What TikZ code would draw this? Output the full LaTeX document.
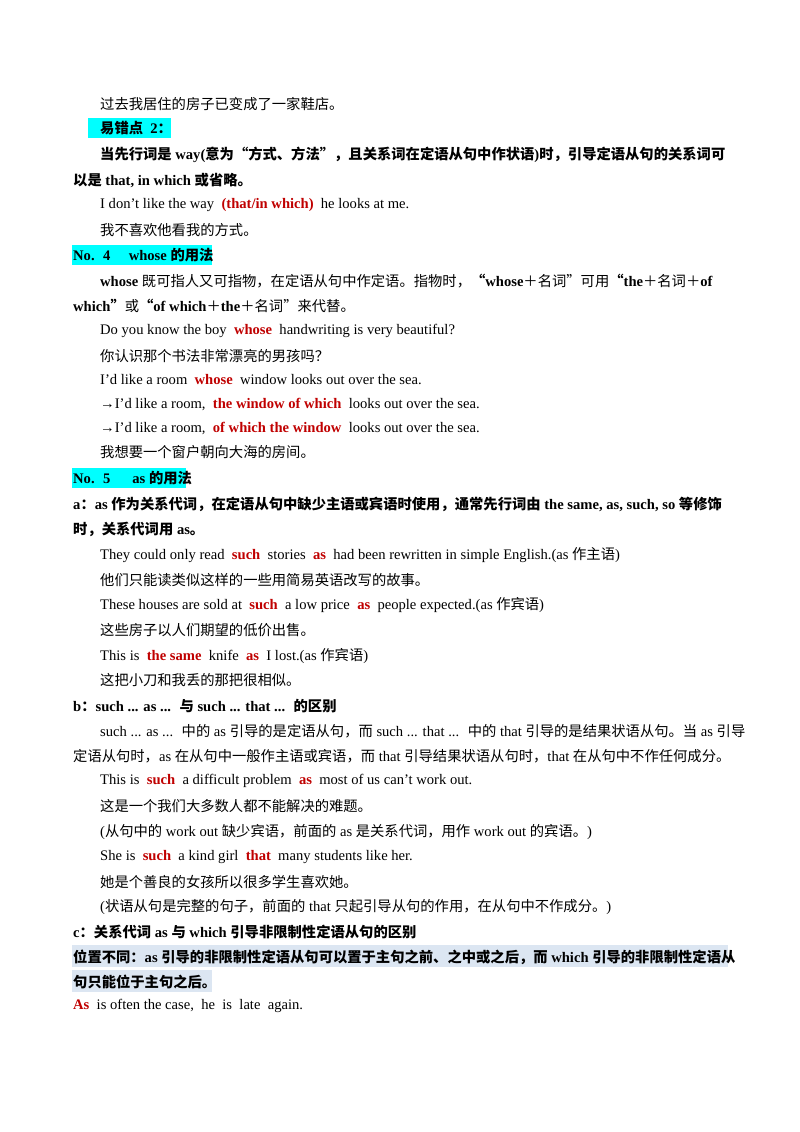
\documentclass[tikz,border=0pt]{standalone}
\usepackage{fontspec}
\setmainfont{Liberation Serif}
\newfontfamily\cjk{Noto Sans CJK SC}[Scale=0.98]
\XeTeXinterchartokenstate=1
\newXeTeXintercharclass\CJKcls
\count255="4E00 \loop \XeTeXcharclass\count255=\CJKcls \ifnum\count255<"9FFF \advance\count255 by 1 \repeat
\count255="3000 \loop \XeTeXcharclass\count255=\CJKcls \ifnum\count255<"303F \advance\count255 by 1 \repeat
\count255="FF00 \loop \XeTeXcharclass\count255=\CJKcls \ifnum\count255<"FFEF \advance\count255 by 1 \repeat
\XeTeXcharclass"201C=\CJKcls \XeTeXcharclass"201D=\CJKcls
\XeTeXinterchartoks 0 \CJKcls = {\cjk}
\XeTeXinterchartoks 4095 \CJKcls = {\cjk}
\XeTeXinterchartoks \CJKcls 0 = {\rmfamily}
\XeTeXinterchartoks \CJKcls 4095 = {\rmfamily}
\definecolor{myred}{HTML}{C00000}
\definecolor{hlc}{HTML}{00FFFF}
\definecolor{hlb}{HTML}{DCE6F2}
\newcommand\rd[1]{\textcolor{myred}{\textbf{#1}}}
\newcommand\ap{\char"0027\relax}
\tikzset{t/.style={anchor=west,inner sep=0pt,font=\fontsize{14.6}{17}\selectfont}}
\begin{document}
\begin{tikzpicture}[x=1pt,y=-1pt]
\useasboundingbox[fill=white] (0,0) rectangle (800,1132);
\fill[hlc] (88,118) rectangle (171,138);
\fill[hlc] (72,245) rectangle (212,265);
\fill[hlc] (72,468) rectangle (186,488);
\fill[hlb] (72,945) rectangle (728,967);
\fill[hlb] (72,970) rectangle (212,992);
\node[t] (l1) at (100,104) {过去我居住的房子已变成了一家鞋店。};
\node[t] (l2) at (100,128) {\textbf{易错点 \ 2：}};
\node[t] (l3) at (100,155) {\textbf{当先行词是 way(意为“方式、方法”，且关系词在定语从句中作状语)时，引导定语从句的关系词可}};
\node[t] (l4) at (73,180) {\textbf{以是 that, in which 或省略。}};
\node[t] (l5) at (100,205) {I don\ap t like the way \ \rd{(that/in which)} \ he looks at me.};
\node[t] (l6) at (100,230) {我不喜欢他看我的方式。};
\node[t] (l7) at (73,255) {\textbf{No. \ 4 \quad whose 的用法}};
\node[t] (l8) at (100,281) {\textbf{whose} 既可指人又可指物，在定语从句中作定语。指物时，\textbf{“whose}＋名词”可用\textbf{“the}＋名词＋\textbf{of}};
\node[t] (l9) at (73,306) {\textbf{which”}或\textbf{“of which}＋\textbf{the}＋名词”来代替。};
\node[t] (l10) at (100,331) {Do you know the boy \ \rd{whose} \ handwriting is very beautiful?};
\node[t] (l11) at (100,356) {你认识那个书法非常漂亮的男孩吗？};
\node[t] (l12) at (100,380) {I\ap d like a room \ \rd{whose} \ window looks out over the sea.};
\node[t] (l13) at (100,404) {→I\ap d like a room, \ \rd{the window of which} \ looks out over the sea.};
\node[t] (l14) at (100,428) {→I\ap d like a room, \ \rd{of which the window} \ looks out over the sea.};
\node[t] (l15) at (100,452) {我想要一个窗户朝向大海的房间。};
\node[t] (l16) at (73,478) {\textbf{No. \ 5 \quad\  as 的用法}};
\node[t] (l17) at (73,504) {\textbf{a：as 作为关系代词，在定语从句中缺少主语或宾语时使用，通常先行词由 the same, as, such, so 等修饰}};
\node[t] (l18) at (73,529) {\textbf{时，关系代词用 as。}};
\node[t] (l19) at (100,555) {They could only read \ \rd{such} \ stories \ \rd{as} \ had been rewritten in simple English.(as 作主语)};
\node[t] (l20) at (100,580) {他们只能读类似这样的一些用简易英语改写的故事。};
\node[t] (l21) at (100,605) {These houses are sold at \ \rd{such} \ a low price \ \rd{as} \ people expected.(as 作宾语)};
\node[t] (l22) at (100,630) {这些房子以人们期望的低价出售。};
\node[t] (l23) at (100,656) {This is \ \rd{the same} \ knife \ \rd{as} \ I lost.(as 作宾语)};
\node[t] (l24) at (100,680) {这把小刀和我丢的那把很相似。};
\node[t] (l25) at (73,706) {\textbf{b：such ... as ... \ 与 such ... that ... \ 的区别}};
\node[t] (l26) at (100,731) {such ... as ... \ 中的 as 引导的是定语从句，而 such ... that ... \ 中的 that 引导的是结果状语从句。当 as 引导};
\node[t] (l27) at (73,756) {定语从句时，as 在从句中一般作主语或宾语，而 that 引导结果状语从句时，that 在从句中不作任何成分。};
\node[t] (l28) at (100,781) {This is \ \rd{such} \ a difficult problem \ \rd{as} \ most of us can\ap t work out.};
\node[t] (l29) at (100,806) {这是一个我们大多数人都不能解决的难题。};
\node[t] (l30) at (100,832) {(从句中的 work out 缺少宾语，前面的 as 是关系代词，用作 work out 的宾语。)};
\node[t] (l31) at (100,857) {She is \ \rd{such} \ a kind girl \ \rd{that} \ many students like her.};
\node[t] (l32) at (100,882) {她是个善良的女孩所以很多学生喜欢她。};
\node[t] (l33) at (100,907) {(状语从句是完整的句子，前面的 that 只起引导从句的作用，在从句中不作成分。)};
\node[t] (l34) at (73,932) {\textbf{c：关系代词 as 与 which 引导非限制性定语从句的区别}};
\node[t] (l35) at (73,957) {\textbf{位置不同：as 引导的非限制性定语从句可以置于主句之前、之中或之后，而 which 引导的非限制性定语从}};
\node[t] (l36) at (73,982) {\textbf{句只能位于主句之后。}};
\node[t] (l37) at (73,1006) {\rd{As} \ is often the case, \ he \ is \ late \ again.};
\end{tikzpicture}
\end{document}
